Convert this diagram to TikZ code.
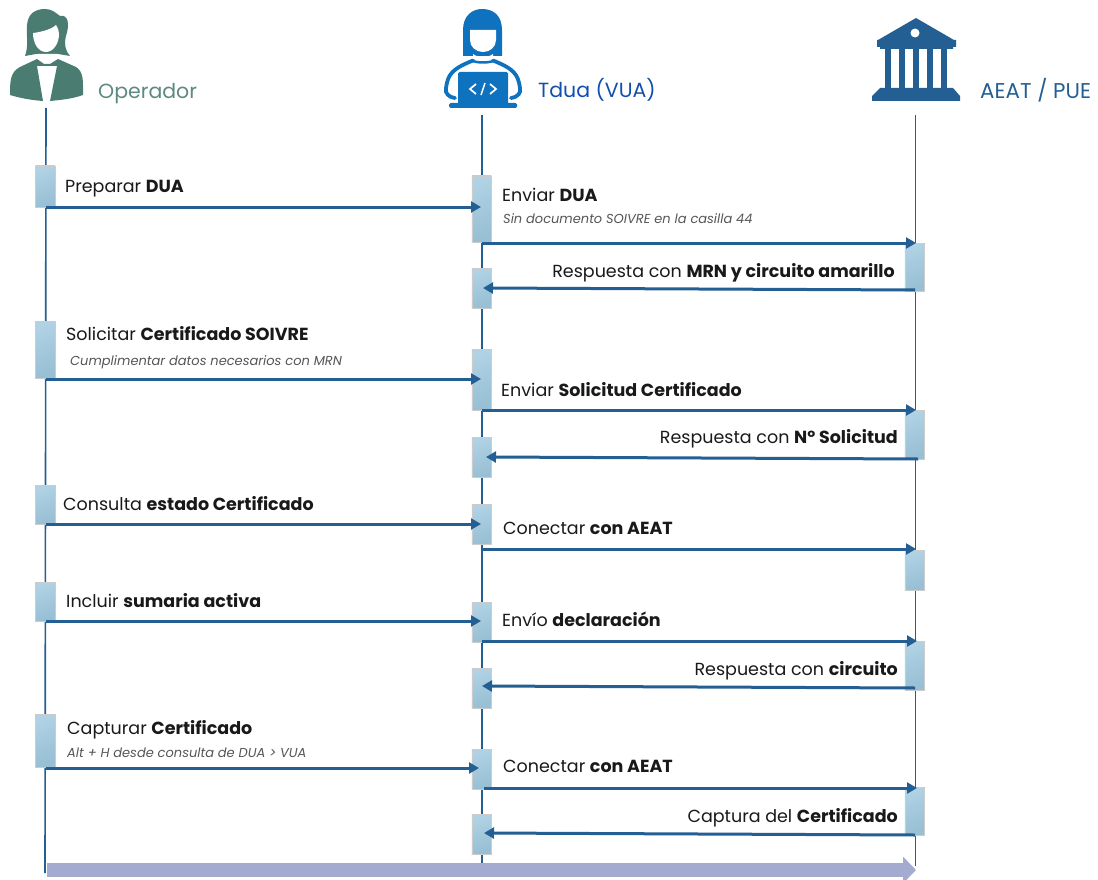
\documentclass[tikz,border=0pt]{standalone}
\usepackage{fontspec}
\setmainfont{Poppins}
\usetikzlibrary{arrows.meta}
\definecolor{opgreen}{HTML}{4A7C72}
\definecolor{tduablue}{HTML}{0F72BF}
\definecolor{tdualabel}{HTML}{0F4FAE}
\definecolor{aeatblue}{HTML}{235F93}
\definecolor{boxlight}{HTML}{B0D2E4}
\definecolor{boxdark}{HTML}{98BFD4}
\definecolor{flowband}{HTML}{A3ACD0}
\definecolor{notegray}{HTML}{555555}
\tikzset{
    lifeline/.style = {aeatblue, line width=1.6pt},
    msgline/.style = {aeatblue, line width=3pt, -{Triangle[length=10pt,width=11pt]}},
    actbox/.style = {draw=black!20, line width=0.4pt, top color=boxlight, bottom color=boxdark, shading angle=20, minimum width=19.5pt, inner sep=0pt, outer sep=0pt},
    actor/.style = {anchor=base west, inner sep=0pt, font=\fontsize{20.5pt}{24pt}\selectfont},
    msgtxt/.style = {anchor=base west, inner sep=0pt, yshift=-0.7pt, text=black!90, font=\fontsize{17.5pt}{20pt}\selectfont},
    msgright/.style = {msgtxt, anchor=base east},
    notetxt/.style = {anchor=base west, inner sep=0pt, yshift=-0.7pt, text=notegray, font=\fontsize{13pt}{15pt}\selectfont\itshape}
}
\begin{document}
\begin{tikzpicture}[x=1pt, y=-1pt]
    \useasboundingbox (0,0) rectangle (1098,880);

    % lifelines
    \coordinate (optop) at (46,108);
    \coordinate (opend) at (45,873);
    \coordinate (tdtop) at (482,115);
    \coordinate (tdend) at (482,864);
    \coordinate (aetop) at (915.5,115);
    \coordinate (aeend) at (915.5,866);
    \draw[lifeline] (optop) -- (opend);
    \draw[lifeline] (tdtop) -- (tdend);
    \draw[lifeline] (aetop) -- (aeend);

    % activation boxes
    \foreach \name/\xc/\ya/\yb in {
        opa/45/166/207, opb/45/321/378, opc/45/485/524, opd/45/582/621, ope/45/714/767,
        tda/481.5/176/242, tdb/481.5/268/308, tdc/481.5/349/410, tdd/481.5/437/477, tde/481.5/504/544,
        tdf/481.5/602/642, tdg/481.5/668/708, tdh/481.5/749/789, tdi/481.5/814/854,
        aea/914.5/243/291, aeb/914.5/410/459, aec/914.5/550/590, aed/914.5/641/690, aee/914.5/787/835
    }{
        \pgfmathsetmacro{\ym}{(\ya+\yb)/2}
        \pgfmathsetmacro{\hg}{\yb-\ya}
        \node[actbox, minimum height=\hg pt] (\name) at (\xc,\ym) {};
    }

    % messages
    \foreach \name/\xa/\ya/\xb/\yb in {
        ma/46/207/481/207, mb/482/243/916/243, mc/915/290/483/288,
        md/46/379/481/379, me/482/410/916/410, mf/918/459/486/457,
        mg/46/524/481/524, mh/482/549/916/549,
        mi/46/621/481/621, mj/482/641/917/641, mk/915/688/482/686,
        ml/46/768/479/768, mm/484/788/917/788, mn/915/835/484/833
    }{
        \coordinate (\name s) at (\xa,\ya);
        \coordinate (\name e) at (\xb,\yb);
        \draw[msgline] (\name s) -- (\name e);
    }

    % labels
    \node[msgtxt] (ta) at (65,192) {Preparar \textbf{DUA}};
    \node[msgtxt] (tb) at (502,201) {Enviar \textbf{DUA}};
    \node[notetxt] (tc) at (503,223) {Sin documento SOIVRE en la casilla 44};
    \node[msgright] (td) at (895,277) {Respuesta con \textbf{MRN y circuito amarillo}};
    \node[msgtxt] (te) at (66,340) {Solicitar \textbf{Certificado SOIVRE}};
    \node[notetxt] (tf) at (70,365) {Cumplimentar datos necesarios con MRN};
    \node[msgtxt] (tg) at (501,396) {Enviar \textbf{Solicitud Certificado}};
    \node[msgright] (th) at (898,443) {Respuesta con \textbf{Nº Solicitud}};
    \node[msgtxt] (ti) at (63,510) {Consulta \textbf{estado Certificado}};
    \node[msgtxt] (tj) at (503,534) {Conectar \textbf{con AEAT}};
    \node[msgtxt] (tk) at (66,607) {Incluir \textbf{sumaria activa}};
    \node[msgtxt] (tl) at (502,626) {Envío \textbf{declaración}};
    \node[msgright] (tm) at (898,675) {Respuesta con \textbf{circuito}};
    \node[msgtxt] (tn) at (67,734) {Capturar \textbf{Certificado}};
    \node[notetxt] (to) at (67,757) {Alt + H desde consulta de DUA > VUA};
    \node[msgtxt] (tp) at (503,772) {Conectar \textbf{con AEAT}};
    \node[msgright] (tq) at (898,822) {Captura del \textbf{Certificado}};

    % actor names
    \node[actor, text=opgreen!90!white] (operador) at (98,99) {Operador};
    \node[actor, text=tdualabel] (tdua) at (538,98) {Tdua (VUA)};
    \node[actor, text=aeatblue, font=\fontsize{21.4pt}{24pt}\selectfont] (aeat) at (980,98.5) {AEAT / PUE};

    % time arrow
    \coordinate (flowa) at (47,870);
    \coordinate (flowb) at (916,870);
    \draw[flowband, line width=14pt, -{Triangle[length=13pt,width=26pt]}] (flowa) -- (flowb);

    % operador icon
    \fill[opgreen] (10,95) .. controls (10,82) and (10,72) .. (20,67) -- (37,59) -- (44,64) -- (50,64) -- (58,59) -- (76,67) .. controls (84,72) and (83,82) .. (83,95) .. controls (72,99) and (60,100) .. (50,101) -- (57,66) -- (37,66) -- (43,101) .. controls (30,100) and (20,98) .. (10,95) -- cycle;
    \fill[opgreen] (25,56) .. controls (29,45) and (26,35) .. (27,25) .. controls (28,13) and (36,9) .. (45,9) .. controls (52,9) and (56,13) .. (60,16) .. controls (68,14) and (70,24) .. (66,36) .. controls (64,44) and (65,50) .. (70,56) -- (58,54) -- (36,54) -- cycle;
    \fill[white] (33,33) .. controls (42,32) and (52,29) .. (56,25) .. controls (58,28) and (59,31) .. (59,34) .. controls (59,44) and (53,52) .. (46,52) .. controls (38,52) and (33,43) .. (33,33) -- cycle;
    \fill[white] (38,57) .. controls (42,60) and (52,60) .. (58,57) -- (58,54) -- (38,54) -- cycle;

    % tdua icon
    \fill[tduablue] (463,56) -- (463,30) .. controls (463,16) and (472,9) .. (482,9) .. controls (494,9) and (502,16) .. (502,30) -- (502,56) -- (463,56) -- cycle;
    \fill[white] (470,30) -- (496,30) -- (496,40) .. controls (496,47) and (490,52) .. (483,52) .. controls (476,52) and (470,47) .. (470,40) -- cycle;
    \fill[white] (473,54) .. controls (478,58) and (488,58) .. (493,54) -- (493,60) -- (473,60) -- cycle;
    \draw[tduablue, line width=3.8pt, line cap=round] (455,98) .. controls (448,97) and (445,93) .. (446,88) .. controls (448,74) and (452,69) .. (473,60.5);
    \draw[tduablue, line width=3.8pt, line cap=round] (511,98) .. controls (518,97) and (521,93) .. (520,88) .. controls (518,74) and (514,69) .. (493,60.5);
    \draw[tduablue, line width=2.5pt] (473,61) .. controls (478,63) and (488,63) .. (493,61);
    \fill[tduablue, rounded corners=1.5pt] (458,72) rectangle (508,106);
    \fill[tduablue, rounded corners=1.5pt] (449,103) rectangle (517,108);
    \draw[white, line width=1.7pt] (476,84) -- (470,89) -- (476,94);
    \draw[white, line width=1.7pt] (490,84) -- (496,89) -- (490,94);
    \draw[white, line width=1.5pt] (485,83) -- (481,95);

    % aeat icon
    \fill[aeatblue] (916,18) -- (954,40) -- (956,40) -- (956,47) -- (953,47) -- (953,49) -- (880,49) -- (880,47) -- (877,47) -- (877,40) -- (878,40) -- cycle;
    \fill[white] (915,33) circle (4.5);
    \foreach \xc in {884.5,898.5,912.5,926.5,940.5} {
        \fill[aeatblue] (\xc,48) rectangle (\xc+6.5,89);
    }
    \fill[aeatblue] (880,88) -- (953,88) -- (960,96) -- (960,101) -- (872,101) -- (872,96) -- cycle;
\end{tikzpicture}
\end{document}
